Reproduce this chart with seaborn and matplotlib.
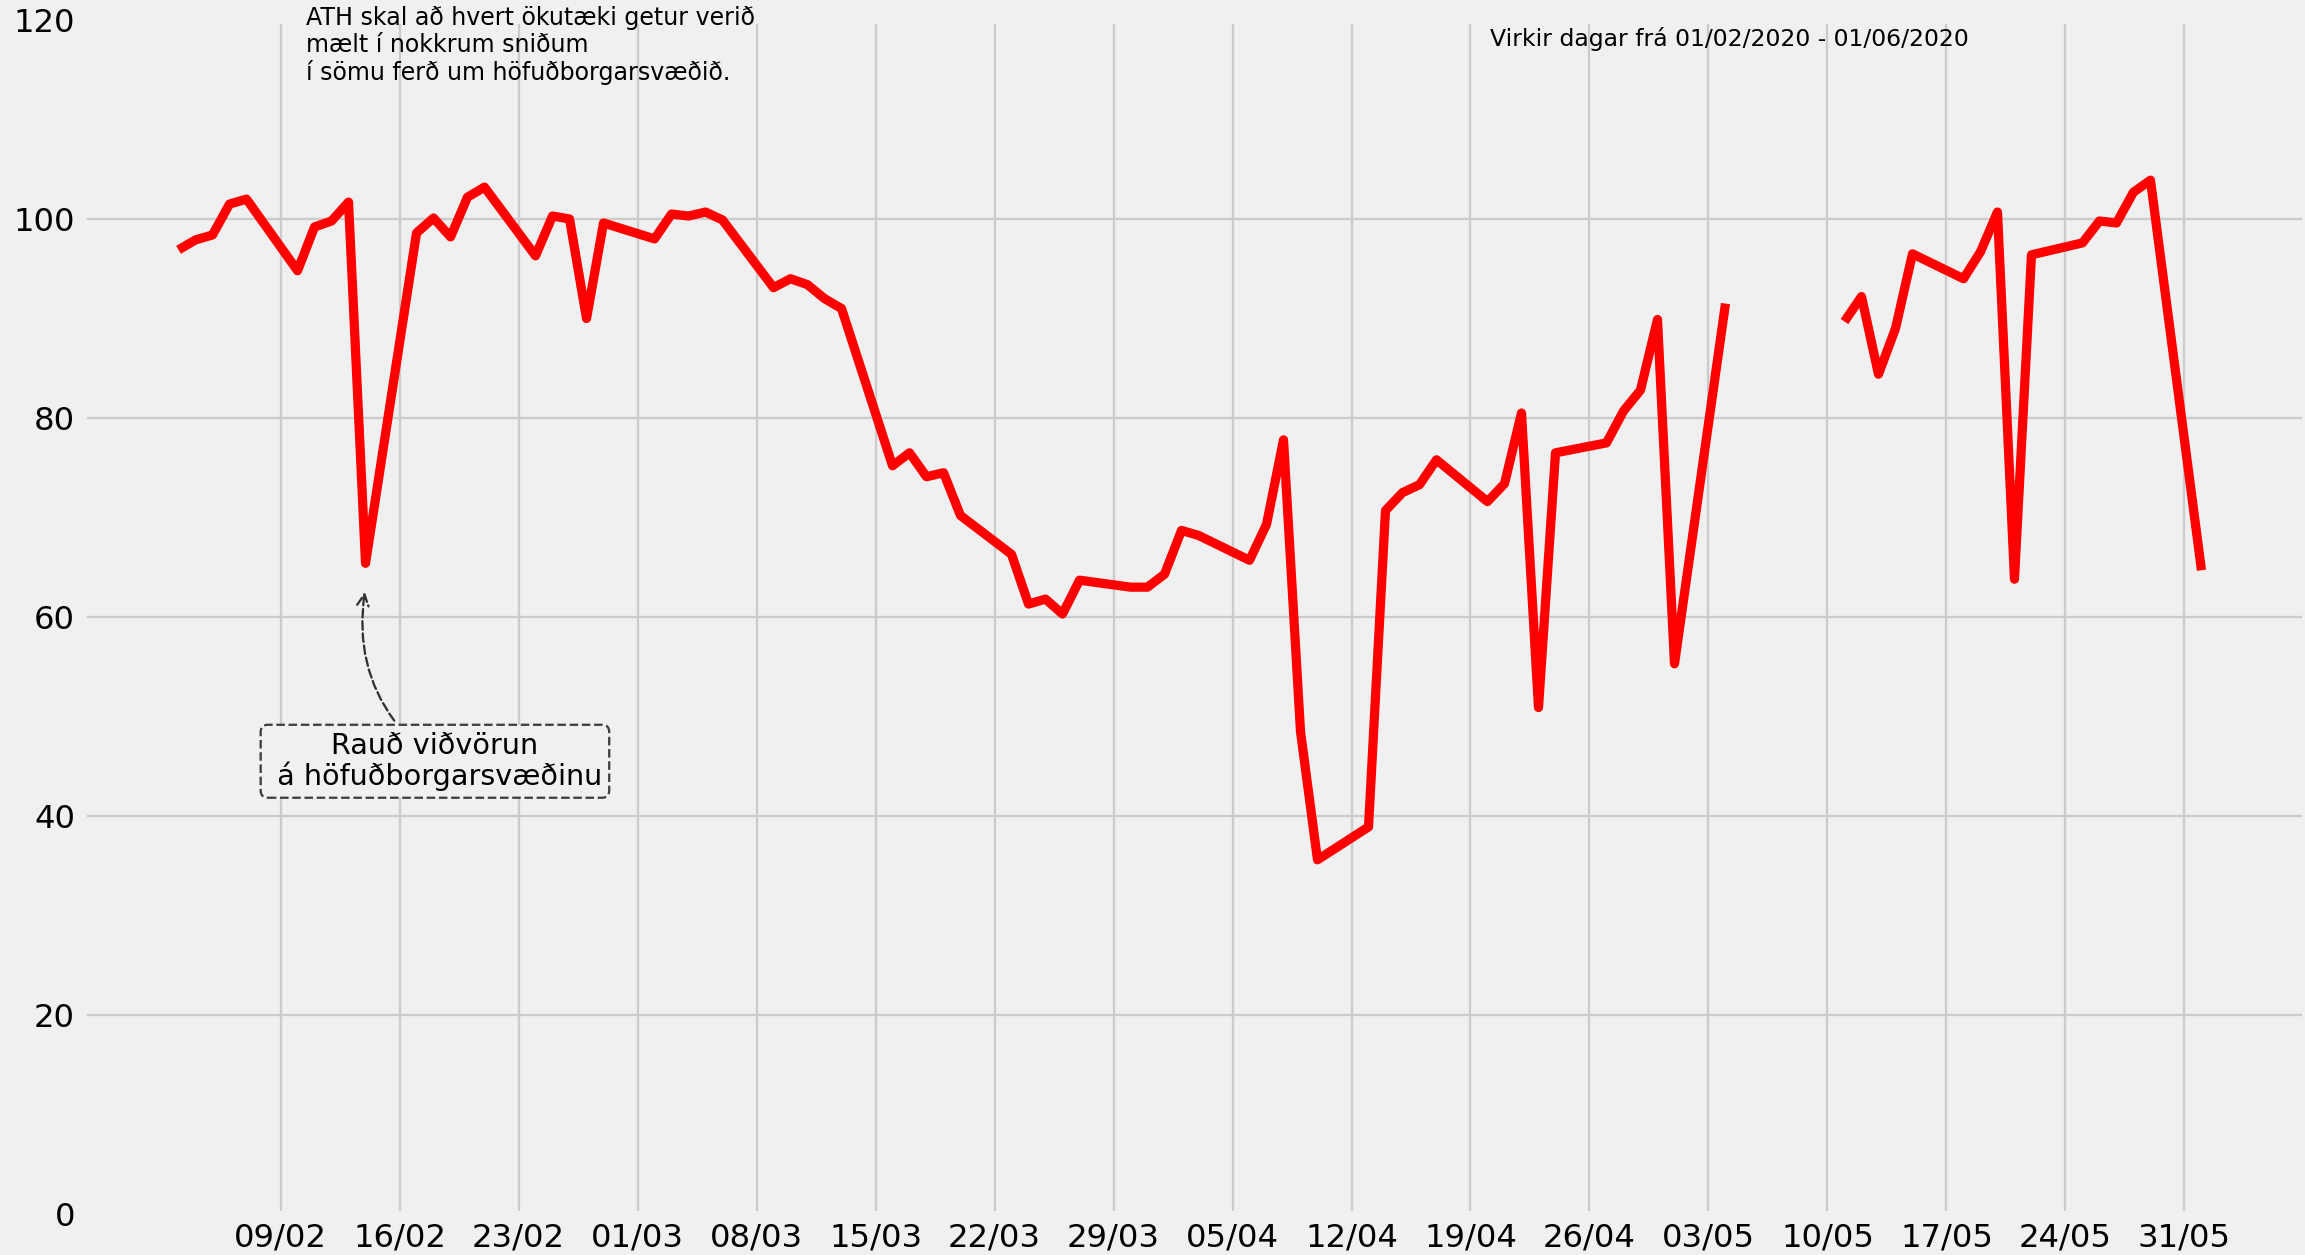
import numpy as np
import pandas as pd
import seaborn as sns
import matplotlib.pyplot as plt
import matplotlib.dates as mdates

# Virkir dagar 03/02/2020 - 01/06/2020 (vantar 05/05 - 08/05)
dagar = pd.bdate_range('2020-02-03', '2020-06-01')
hlutfall = [
    96.9, 97.9, 98.4, 101.5, 102.0,
    94.8, 99.2, 99.8, 101.7, 65.4,
    98.6, 100.1, 98.2, 102.2, 103.2,
    96.3, 100.3, 100.0, 90.0, 99.6,
    98.0, 100.5, 100.3, 100.7, 99.9,
    93.1, 94.0, 93.4, 92.0, 91.0,
    75.2, 76.5, 74.1, 74.5, 70.2,
    66.3, 61.3, 61.8, 60.3, 63.7,
    63.0, 63.0, 64.3, 68.7, 68.2,
    65.7, 69.3, 77.8, 48.5, 35.6,
    38.9, 70.7, 72.5, 73.3, 75.8,
    71.6, 73.4, 80.5, 50.9, 76.5,
    77.5, 80.7, 82.8, 89.9, 55.3,
    91.5, np.nan, np.nan, np.nan, np.nan,
    89.7, 92.2, 84.4, 89.0, 96.5,
    94.0, 96.7, 100.7, 63.8, 96.4,
    97.6, 99.8, 99.6, 102.7, 103.9,
    64.7,
]
vikur = pd.date_range('2020-02-09', '2020-05-31', freq='7D')

df = pd.DataFrame({'dags': dagar, 'hlutfall': hlutfall})
# break the line where values are missing
df['kafli'] = df['hlutfall'].isna().cumsum()
df = df.dropna()

plt.style.use('fivethirtyeight')
fig = plt.figure(figsize=(2305 / 166, 1255 / 166), dpi=166)
ax = fig.add_axes([83 / 2305, 41 / 1255, 2222 / 2305, 1194 / 1255])

sns.lineplot(data=df, x='dags', y='hlutfall', units='kafli', estimator=None,
             color='red', linewidth=4, ax=ax)

t0 = mdates.date2num(pd.Timestamp('2020-02-09'))
ax.set_xlim(t0 - 11.62, t0 + 119.09)
ax.set_ylim(0, 120)
ax.set_yticks(range(0, 121, 20))
ax.set_xticks(vikur)
ax.xaxis.set_major_formatter(mdates.DateFormatter('%d/%m'))
ax.set_xlabel('')
ax.set_ylabel('')

ax.text(mdates.date2num(pd.Timestamp('2020-02-10 12:00')), 114.0,
        'ATH skal að hvert ökutæki getur verið\nmælt í nokkrum sniðum\n'
        'í sömu ferð um höfuðborgarsvæðið.', fontsize=10.3, va='baseline',
        linespacing=1.15)
ax.text(mdates.date2num(pd.Timestamp('2020-04-20 03:00')), 117.4,
        'Virkir dagar frá 01/02/2020 - 01/06/2020', fontsize=10.2, va='baseline')

ax.annotate('Rauð viðvörun\n á höfuðborgarsvæðinu',
            xy=(mdates.date2num(pd.Timestamp('2020-02-14')), 63),
            xytext=(mdates.date2num(pd.Timestamp('2020-02-18 02:00')), 45.5),
            ha='center', va='center', fontsize=12.4, linespacing=1.05,
            bbox=dict(boxstyle='round,pad=0.25', fc='#f0f0f0', ec='0.25', ls='--', lw=1),
            arrowprops=dict(arrowstyle='->', connectionstyle='arc3,rad=-0.3',
                            ls='--', color='0.2', lw=1))

fig.savefig('out.png', dpi=166, facecolor=fig.get_facecolor())
